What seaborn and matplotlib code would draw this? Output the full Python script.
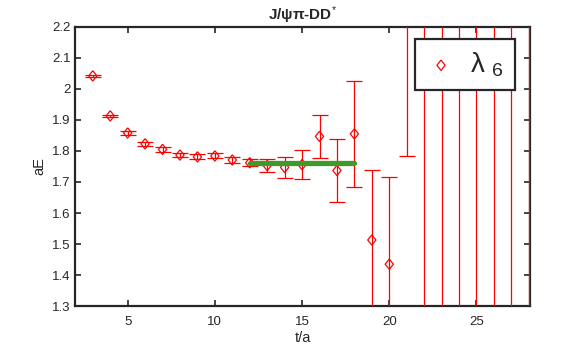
import numpy as np
import matplotlib
matplotlib.use("Agg")
import matplotlib.pyplot as plt
import seaborn as sns

# effective energy for the 6th eigenvalue, J/psi pi - DD* channel
t_vals = [3, 4, 5, 6, 7, 8, 9, 10, 11, 12, 13, 14, 15, 16, 17, 18, 19, 20,
          21, 22, 23, 24, 25, 26, 27, 28]
aE_vals = [2.042, 1.913, 1.858, 1.823, 1.805, 1.787, 1.781, 1.784, 1.771, 1.762,
           1.753, 1.747, 1.756, 1.847, 1.737, 1.855, 1.513, 1.435,
           2.600, 2.068, 2.450, 0.950, 2.800, 0.600, 2.300, 2.900]
aE_err = [0.003, 0.004, 0.005, 0.006, 0.007, 0.007, 0.008, 0.008, 0.010, 0.012,
          0.022, 0.034, 0.047, 0.070, 0.102, 0.171, 0.226, 0.281,
          0.816, 1.500, 1.600, 1.700, 2.000, 1.800, 2.000, 2.200]

# plateau fit
fit_t = [12, 18]
fit_aE = [1.76, 1.76]

sns.set_style("ticks")
plt.rcParams['font.family'] = ['Liberation Sans', 'DejaVu Sans']
plt.rcParams['mathtext.fontset'] = 'custom'
plt.rcParams['mathtext.rm'] = 'Liberation Sans'
plt.rcParams['mathtext.it'] = 'Liberation Sans'

fig = plt.figure(figsize=(5.84, 3.49), dpi=100)
ax = fig.add_axes([0.129, 0.123, 0.778, 0.800])

ax.errorbar(t_vals, aE_vals, yerr=aE_err, fmt='none', ecolor='#ff0000',
            elinewidth=0.9, capsize=6, capthick=0.9, zorder=3)

diamond = [(0, 1), (0.8, 0), (0, -1), (-0.8, 0), (0, 1)]
sns.scatterplot(x=t_vals, y=aE_vals, marker=diamond, s=55, facecolors='none',
                edgecolors='#ff0000', linewidths=0.9, label='λ $_{6}$',
                ax=ax, zorder=4, legend=False)

sns.lineplot(x=fit_t, y=fit_aE, color='#3e9b2b', linewidth=3.8, ax=ax,
             zorder=5, legend=False)

ax.set_xlim(2, 28.05)
ax.set_ylim(1.3, 2.2)
ax.set_xticks([5, 10, 15, 20, 25])
ax.set_yticks(np.round(np.arange(1.3, 2.21, 0.1), 1))
ax.set_yticklabels(['1.3', '1.4', '1.5', '1.6', '1.7', '1.8', '1.9', '2', '2.1', '2.2'])

ax.tick_params(direction='in', length=4, width=1.2, top=True, right=True,
               labelsize=9.5, colors='#262626')
ax.tick_params(axis='x', pad=7)
for sp in ax.spines.values():
    sp.set_visible(True)
    sp.set_linewidth(1.6)
    sp.set_color('#262626')

ax.set_xlabel('t/a', fontsize=10.5, color='#262626', labelpad=2)
ax.set_ylabel('aE', fontsize=10.5, color='#262626', labelpad=4)
ax.set_title(r'J/ψπ-DD$^{*}$', fontsize=11, fontweight='bold', pad=5)

handles, labels = ax.get_legend_handles_labels()
leg = ax.legend(handles[:1], labels[:1], loc='upper right',
                bbox_to_anchor=(0.968, 0.955), borderaxespad=0, fontsize=20,
                frameon=True, fancybox=False, framealpha=1, edgecolor='#262626',
                handletextpad=0.5, borderpad=0.4, handlelength=1.1)
leg.get_frame().set_linewidth(1.6)
leg.set_zorder(10)

fig.savefig('out.png', dpi=100)
